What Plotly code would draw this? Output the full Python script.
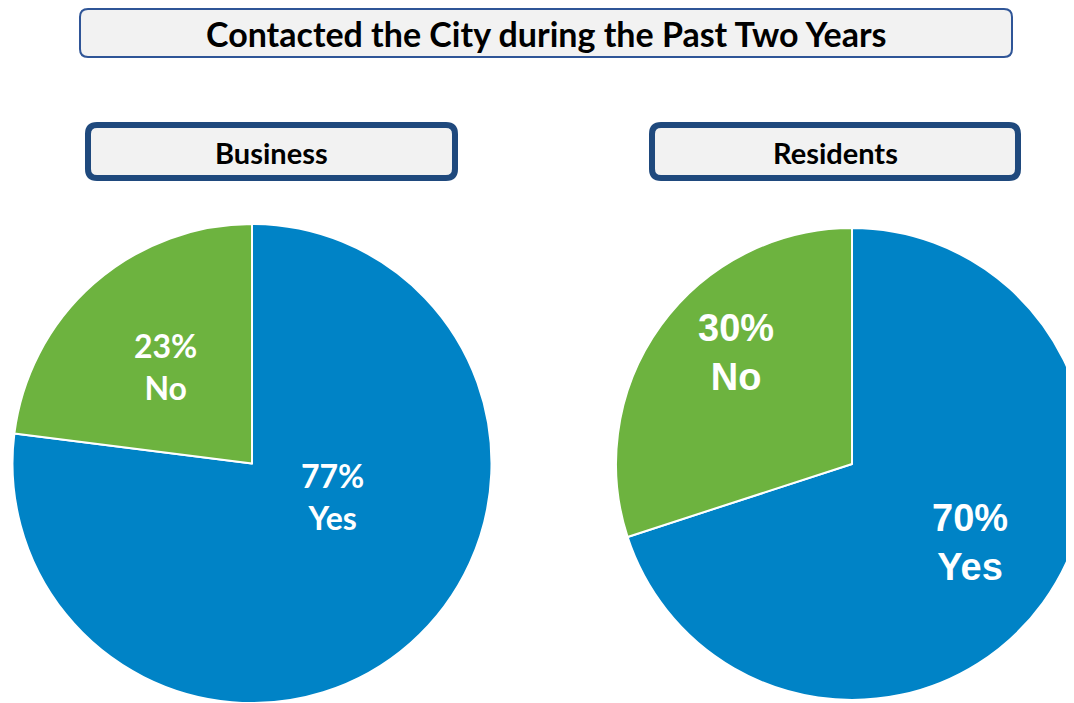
import plotly.graph_objects as go

# data
groups = ["Business", "Residents"]
answers = ["Yes", "No"]
business_pct = [77, 23]
residents_pct = [70, 30]
chart_title = "Contacted the City during the Past Two Years"

# the page body has an 8px margin, so the figure is drawn 8px in from the corner;
# the figure is a bit wider than the window so the right pie runs off the edge
OFF = 8
W, H = 1092 - OFF, 703 - OFF
BLUE = "#0083C6"
GREEN = "#6DB33F"
NAVY = "#1F497D"


def px(x):
    return (x - OFF) / W


def py(y):
    return 1 - (y - OFF) / H


def rounded_box(x0, y0, x1, y1, r):
    # corners given in screen pixels, path written in paper units
    pts = lambda x, y: f"{px(x):.5f},{py(y):.5f}"
    return (f"M {pts(x0+r, y0)} L {pts(x1-r, y0)} Q {pts(x1, y0)} {pts(x1, y0+r)} "
            f"L {pts(x1, y1-r)} Q {pts(x1, y1)} {pts(x1-r, y1)} L {pts(x0+r, y1)} "
            f"Q {pts(x0, y1)} {pts(x0, y1-r)} L {pts(x0, y0+r)} Q {pts(x0, y0)} {pts(x0+r, y0)} Z")


def dom(x0, x1, top, bottom):
    return dict(x=[max(0, px(x0)), min(1, px(x1))], y=[max(0, py(bottom)), min(1, py(top))])


def note(x, y, text, font):
    fig.add_annotation(x=px(x), y=py(y), xref="paper", yref="paper", text=text,
                       showarrow=False, xanchor="center", yanchor="middle", font=font)


fig = go.Figure()

pies = [
    (business_pct, dom(12, 492, 224, 704)),
    (residents_pct, dom(616, 1088, 228, 700)),
]
for vals, d in pies:
    fig.add_trace(go.Pie(
        labels=answers, values=vals, sort=False, direction="clockwise", rotation=0,
        marker=dict(colors=[BLUE, GREEN], line=dict(color="white", width=2)),
        textinfo="none", domain=d, showlegend=False, hoverinfo="label+percent"))

# slice labels (Yes, No) per chart
label_pos = [
    [(332, 496), (165, 366)],
    [(970, 542), (736, 352)],
]
label_font = [
    dict(family="Lato", size=32, color="white", weight="bold"),
    dict(family="Liberation Sans", size=38, color="white", weight="bold"),
]
for vals, pos, f in zip([business_pct, residents_pct], label_pos, label_font):
    for ans, v, (x, y) in zip(answers, vals, pos):
        note(x, y, f"{v}%<br>{ans}", f)

# header boxes
fig.add_shape(type="path", xref="paper", yref="paper",
              path=rounded_box(80, 9, 1012, 57, 8),
              fillcolor="#F2F2F2", line=dict(color="#2F5597", width=2))
note(546, 33, chart_title, dict(family="Lato", size=34, color="black", weight="bold"))

for name, (x0, x1) in zip(groups, [(88, 455), (652, 1018)]):
    fig.add_shape(type="path", xref="paper", yref="paper",
                  path=rounded_box(x0, 125, x1, 178, 9),
                  fillcolor="#F2F2F2", line=dict(color=NAVY, width=6))
    note((x0 + x1) / 2, 152, name, dict(family="Lato", size=29, color="black", weight="bold"))

fig.update_layout(width=W, height=H, margin=dict(l=0, r=0, t=0, b=0),
                  paper_bgcolor="white", plot_bgcolor="white")

fig.write_html("out.html")
